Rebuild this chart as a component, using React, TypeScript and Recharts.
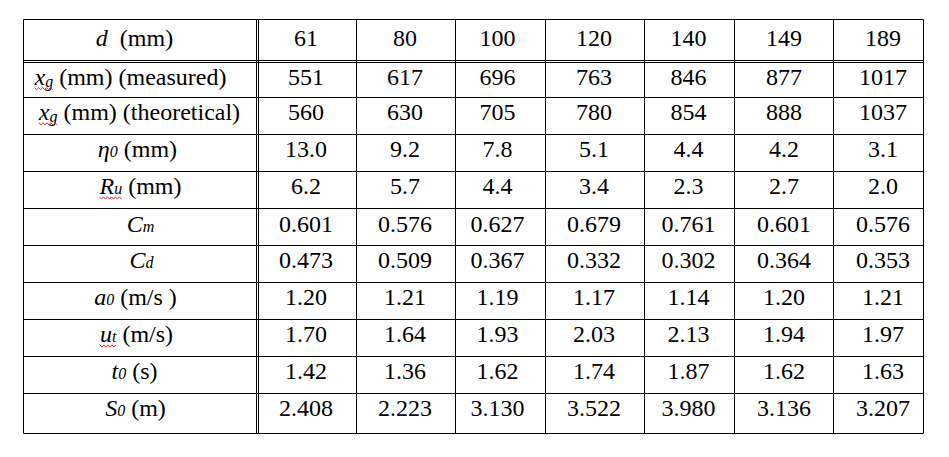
import { ReferenceLine, Scatter, ScatterChart, XAxis, YAxis } from 'recharts'

// table values, one list per row
const D_MM = [61, 80, 100, 120, 140, 149, 189]
const XG_MEASURED = [551, 617, 696, 763, 846, 877, 1017]
const XG_THEORETICAL = [560, 630, 705, 780, 854, 888, 1037]
const ETA0 = [13.0, 9.2, 7.8, 5.1, 4.4, 4.2, 3.1]
const RU = [6.2, 5.7, 4.4, 3.4, 2.3, 2.7, 2.0]
const CM = [0.601, 0.576, 0.627, 0.679, 0.761, 0.601, 0.576]
const CD = [0.473, 0.509, 0.367, 0.332, 0.302, 0.364, 0.353]
const A0 = [1.2, 1.21, 1.19, 1.17, 1.14, 1.2, 1.21]
const UT = [1.7, 1.64, 1.93, 2.03, 2.13, 1.94, 1.97]
const T0 = [1.42, 1.36, 1.62, 1.74, 1.87, 1.62, 1.63]
const S0 = [2.408, 2.223, 3.13, 3.522, 3.98, 3.136, 3.207]

const ROW_VALUES = [D_MM, XG_MEASURED, XG_THEORETICAL, ETA0, RU, CM, CD, A0, UT, T0, S0]
const ROW_DECIMALS = [0, 0, 0, 1, 1, 3, 3, 2, 2, 2, 3]

type Seg = { t: string; it?: boolean; small?: boolean; sub?: boolean; wavy?: boolean }

const ROW_LABELS: Seg[][] = [
  [{ t: 'd', it: true }, { t: '\u00a0 (mm)' }],
  [{ t: 'x', it: true, wavy: true }, { t: 'g', it: true, small: true, sub: true, wavy: true }, { t: ' (mm) (measured)' }],
  [{ t: 'x', it: true, wavy: true }, { t: 'g', it: true, small: true, sub: true, wavy: true }, { t: ' (mm) (theoretical)' }],
  [{ t: 'η', it: true }, { t: '0', it: true, small: true }, { t: ' (mm)' }],
  [{ t: 'R', it: true, wavy: true }, { t: 'u', it: true, small: true, wavy: true }, { t: ' (mm)' }],
  [{ t: 'C', it: true }, { t: 'm', it: true, small: true }],
  [{ t: 'C', it: true }, { t: 'd', it: true, small: true }],
  [{ t: 'a', it: true }, { t: '0', it: true, small: true }, { t: ' (m/s\u00a0)' }],
  [{ t: 'u', it: true, wavy: true }, { t: 't', it: true, small: true, wavy: true }, { t: ' (m/s)' }],
  [{ t: 't', it: true }, { t: '0', it: true, small: true }, { t: ' (s)' }],
  [{ t: 'S', it: true }, { t: '0', it: true, small: true }, { t: ' (m)' }],
]

// layout: cell edges in px along each axis (double rule after first column / first row)
const COL_EDGES = [0, 234, 333, 432, 522, 621, 711, 810, 900]
const ROW_EDGES = [0, 42, 78, 115, 152, 189, 226, 263, 300, 337, 374, 414]
const BASELINE = [26.5, 23.5, 22.7, 22.5, 22.8, 23, 22.8, 22.5, 22.8, 22.5, 22.5]
const LABEL_DX = [-6, -10, -1, -3, 0, 0, 1, -5, -4, -6, -5]
const COL_DX = [-1, -1, -3, -1, -1, 0, 4.5]
const V_RULES = [0, 233, 235, 333, 432, 522, 621, 711, 810, 900]
const H_RULES = [0, 41, 43, 78, 115, 152, 189, 226, 263, 300, 337, 374, 414]

const FONT = 'Liberation Serif'
const FONT_SIZE = 24
const SMALL_SIZE = 16

// Times / Liberation Serif advance widths (1/1000 em), only the glyphs used here
const REG_W: Record<string, number> = {
  ' ': 250, '\u00a0': 250, '(': 333, ')': 333, '/': 278, '.': 250,
  a: 444, c: 444, d: 500, e: 444, h: 500, i: 278, l: 278, m: 778, o: 500, r: 333, s: 389, t: 278, u: 500,
}
const IT_W: Record<string, number> = { d: 500, x: 444, g: 500, 'η': 500, R: 611, u: 500, C: 667, m: 722, a: 500, t: 278, S: 500 }

function segWidth(s: Seg) {
  const size = s.small ? SMALL_SIZE : FONT_SIZE
  let w = 0
  for (const ch of s.t) {
    const table = s.it ? IT_W : REG_W
    w += (/[0-9]/.test(ch) ? 500 : table[ch] ?? 500) * size / 1000
  }
  return w
}

const cells: any[] = []
ROW_VALUES.forEach((vals, r) => {
  const top = ROW_EDGES[r]
  cells.push({
    x: COL_EDGES[0] + (COL_EDGES[1] - COL_EDGES[0]) / 2,
    y: top,
    segs: ROW_LABELS[r],
    baseline: BASELINE[r],
    dx: LABEL_DX[r],
  })
  vals.forEach((v, c) => {
    cells.push({
      x: (COL_EDGES[c + 1] + COL_EDGES[c + 2]) / 2,
      y: top,
      segs: [{ t: v.toFixed(ROW_DECIMALS[r]) }],
      baseline: BASELINE[r],
      dx: COL_DX[c],
    })
  })
})

function CellText({ x, y, segs }: { x: number; y: number; segs: Seg[] }) {
  const total = segs.reduce((w, s) => w + segWidth(s), 0)
  const start = x - total / 2
  const wavyW = segs.filter((s) => s.wavy).reduce((w, s) => w + segWidth(s), 0)

  let wavePath = ''
  if (wavyW > 0) {
    const pts: string[] = []
    let i = 0
    for (let px = start; px <= start + wavyW + 0.1; px += 2) {
      pts.push(`${px.toFixed(1)},${(y + (i % 2 === 0 ? 2.5 : 4.8)).toFixed(1)}`)
      i++
    }
    wavePath = 'M' + pts.join('L')
  }

  return (
    <g>
      <text x={start} y={y} fontFamily={FONT} fontSize={FONT_SIZE} fill="#000">
        {segs.map((s, i) => (
          <tspan
            key={i}
            fontStyle={s.it ? 'italic' : undefined}
            fontSize={s.small ? SMALL_SIZE : undefined}
            dy={s.sub ? 2 : i > 0 && segs[i - 1].sub ? -2 : undefined}
          >
            {s.t}
          </tspan>
        ))}
      </text>
      {wavePath && <path d={wavePath} fill="none" stroke="#e81c1c" strokeWidth={0.9} />}
    </g>
  )
}

const renderCell = (props: any) => {
  const { cx, cy, payload } = props
  return <CellText x={cx + payload.dx} y={cy + payload.baseline} segs={payload.segs} />
}

export default function App() {
  return (
    <ScatterChart width={941} height={449} margin={{ top: 11.5, right: 25.5, bottom: 23.5, left: 15.5 }}>
      <XAxis type="number" dataKey="x" domain={[0, 900]} allowDataOverflow hide />
      <YAxis type="number" dataKey="y" domain={[0, 414]} allowDataOverflow reversed hide />
      {V_RULES.map((v) => (
        <ReferenceLine key={`v${v}`} x={v} stroke="#000" strokeWidth={1} />
      ))}
      {H_RULES.map((v) => (
        <ReferenceLine key={`h${v}`} y={v} stroke="#000" strokeWidth={1} />
      ))}
      <Scatter data={cells} shape={renderCell} isAnimationActive={false} />
    </ScatterChart>
  )
}
